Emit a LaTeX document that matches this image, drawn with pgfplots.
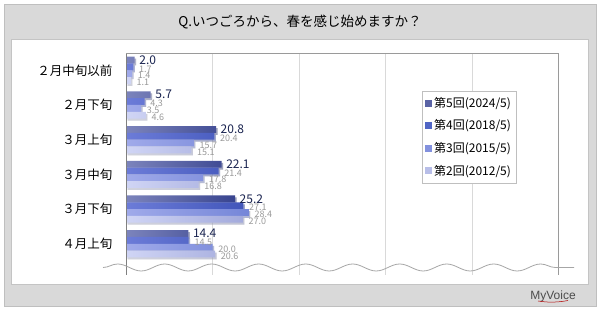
\documentclass[border=0pt]{standalone}
\usepackage{pgfplots}
\pgfplotsset{compat=1.18}
\usepackage{fontspec}
\setmainfont{Noto Sans CJK JP}
\newfontfamily\lib{Liberation Sans}
\usetikzlibrary{shadows,decorations.pathmorphing}
\definecolor{bgGray}{HTML}{D9D9D9}
\definecolor{frameGray}{HTML}{BFBFBF}
\definecolor{panelLine}{HTML}{C4C4C4}
\definecolor{gridGray}{HTML}{D9D9D9}
\definecolor{axGray}{HTML}{808080}
\definecolor{lblDark}{HTML}{1A2450}
\definecolor{lblGray}{HTML}{9A9A9A}
\definecolor{cFiveL}{HTML}{7C84BC}
\definecolor{cFiveR}{HTML}{38448F}
\definecolor{cFourL}{HTML}{6C7CD8}
\definecolor{cFourR}{HTML}{4256BA}
\definecolor{cThreeL}{HTML}{A0AAEA}
\definecolor{cThreeR}{HTML}{7586D8}
\definecolor{cTwoL}{HTML}{D0D5F5}
\definecolor{cTwoR}{HTML}{A3AADC}
\definecolor{legFive}{HTML}{5A63A5}
\definecolor{legFour}{HTML}{5065C5}
\definecolor{legThree}{HTML}{8391DE}
\definecolor{legTwo}{HTML}{B8BEE8}
\begin{document}
\begin{tikzpicture}[x=1pt,y=1pt]
\useasboundingbox (0,0) rectangle (600,312);
\fill[white] (0,0) rectangle (600,312);
\draw[draw=frameGray, fill=bgGray] (4,6) rectangle (596,308);
\draw[draw=panelLine, fill=white] (11,27.5) rectangle (588,272.5);
\node[font=\fontsize{13.5}{15}\selectfont, text=black] at (300,290) {Q.いつごろから、春を感じ始めますか？};
\begin{axis}[
  at={(126pt,37pt)}, anchor=south west,
  scale only axis, width=432.7pt, height=221.7pt,
  xmin=0, xmax=100, ymin=-0.49, ymax=5.9,
  y dir=reverse,
  axis line style={draw=none},
  xtick={20,40,60,80}, xticklabels={},
  xmajorgrids, grid style={color=gridGray, line width=0.8pt},
  major tick length=0pt,
  ytick={0,1,2,3,4,5},
  yticklabels={２月中旬以前,２月下旬,３月上旬,３月中旬,３月下旬,４月上旬},
  yticklabel style={font=\fontsize{12.5}{14}\selectfont, xshift=-10pt, text=black},
  xbar, bar width=6.8pt,
  clip=false,
  legend image code/.code={\fill[#1, draw=none] (0pt,-3.5pt) rectangle (7pt,3.5pt);},
  legend style={at={(0.684,0.83)}, anchor=north west, draw=frameGray,
    font=\fontsize{12}{13}\selectfont, row sep=7pt, inner xsep=3pt, inner ysep=4pt,
    cells={anchor=west}},
]
\addlegendimage{fill=legFive}
\addlegendentry{第5回(2024/5)}
\addlegendimage{fill=legFour}
\addlegendentry{第4回(2018/5)}
\addlegendimage{fill=legThree}
\addlegendentry{第3回(2015/5)}
\addlegendimage{fill=legTwo}
\addlegendentry{第2回(2012/5)}

\addplot[forget plot, xbar, bar shift=10.2pt, draw=none, left color=cFiveL, right color=cFiveR,
  drop shadow={shadow xshift=1.5pt, shadow yshift=-2pt, opacity=0.35},
  nodes near coords={\pgfmathprintnumber[fixed,zerofill,precision=1,assume math mode=true]{\pgfplotspointmeta}},
  every node near coord/.append style={font=\fontsize{12}{12}\selectfont, text=lblDark, anchor=west, xshift=3pt, inner sep=1.5pt}]
  coordinates {(2.0,0) (5.7,1) (20.8,2) (22.1,3) (25.2,4) (14.4,5)};
\addplot[forget plot, xbar, bar shift=3.4pt, draw=none, left color=cFourL, right color=cFourR,
  drop shadow={shadow xshift=1.5pt, shadow yshift=-2pt, opacity=0.35},
  nodes near coords={\pgfmathprintnumber[fixed,zerofill,precision=1,assume math mode=true]{\pgfplotspointmeta}},
  every node near coord/.append style={font=\fontsize{9}{9}\selectfont, text=lblGray, anchor=west, xshift=5pt, yshift=-2pt, inner sep=0.6pt}]
  coordinates {(1.7,0) (4.3,1) (20.4,2) (21.4,3) (27.1,4) (14.5,5)};
\addplot[forget plot, xbar, bar shift=-3.4pt, draw=none, left color=cThreeL, right color=cThreeR,
  drop shadow={shadow xshift=1.5pt, shadow yshift=-2pt, opacity=0.35},
  nodes near coords={\pgfmathprintnumber[fixed,zerofill,precision=1,assume math mode=true]{\pgfplotspointmeta}},
  every node near coord/.append style={font=\fontsize{9}{9}\selectfont, text=lblGray, anchor=west, xshift=5pt, yshift=-2pt, inner sep=0.6pt}]
  coordinates {(1.4,0) (3.5,1) (15.7,2) (17.8,3) (28.4,4) (20.0,5)};
\addplot[forget plot, xbar, bar shift=-10.2pt, draw=none, left color=cTwoL, right color=cTwoR,
  drop shadow={shadow xshift=1.5pt, shadow yshift=-2pt, opacity=0.35},
  nodes near coords={\pgfmathprintnumber[fixed,zerofill,precision=1,assume math mode=true]{\pgfplotspointmeta}},
  every node near coord/.append style={font=\fontsize{9}{9}\selectfont, text=lblGray, anchor=west, xshift=5pt, yshift=-2pt, inner sep=0.6pt}]
  coordinates {(1.1,0) (4.6,1) (15.1,2) (16.8,3) (27.0,4) (20.6,5)};

\draw[axGray, line width=0.8pt] (axis cs:0,5.9) -- (axis cs:0,-0.49);
\draw[axGray!80, line width=0.8pt] (axis cs:0,-0.49) -- (axis cs:100,-0.49) -- (axis cs:100,5.9);
\end{axis}
\draw[gray!70, line width=0.8pt, decorate, decoration={snake, amplitude=3.5pt, segment length=47pt}] (103,44.5) -- (574,44.5);
\node[font=\lib\fontsize{12}{13}\selectfont, text=black!70] at (553,16) {MyVoice};
\draw[red!70!black, line width=0.5pt] (538,11) .. controls (550,9) and (560,10) .. (568,11.5);
\end{tikzpicture}
\end{document}
